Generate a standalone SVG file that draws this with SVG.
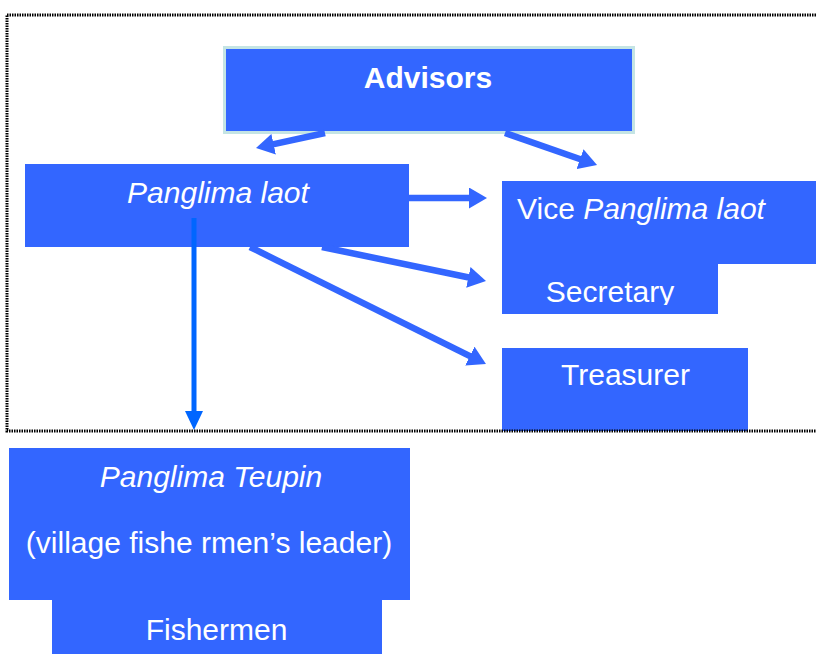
<svg xmlns="http://www.w3.org/2000/svg" width="816" height="654" viewBox="0 0 816 654">
<style>
.box{fill:#3366FF}
.t{font-family:"Liberation Sans",Arial,sans-serif;font-size:30px;fill:#FFFFFF;text-anchor:middle}
.i{font-style:italic}
.c{stroke:#3366FF;stroke-width:6.5;fill:none;marker-end:url(#ah)}
.cv{stroke:#0066FF;stroke-width:5;fill:none;marker-end:url(#ahv)}
</style>
<defs>
<marker id="ah" markerUnits="userSpaceOnUse" markerWidth="18" markerHeight="21" refX="8" refY="10.5" orient="auto"><path d="M0,0 L18,10.5 L0,21 z" fill="#3366FF"/></marker>
<marker id="ahv" markerUnits="userSpaceOnUse" markerWidth="19" markerHeight="18" refX="9" refY="9" orient="auto"><path d="M0,0 L19,9 L0,18 z" fill="#0066FF"/></marker>
<clipPath id="secclip"><rect x="502" y="264" width="216" height="41"/></clipPath>
</defs>
<rect width="816" height="654" fill="#FFFFFF"/>
<g id="advisors">
<rect class="box" x="224.5" y="47.5" width="409" height="85" stroke="#C4E4E4" stroke-width="3"/>
<text class="t" x="428" y="88" font-weight="bold">Advisors</text>
</g>
<g id="panglima-laot">
<rect class="box" x="25" y="164" width="384" height="83"/>
<text class="t i" x="218" y="203">Panglima laot</text>
</g>
<g id="vice">
<rect class="box" x="502" y="181" width="330" height="83"/>
<text class="t" x="517" y="219" style="text-anchor:start">Vice <tspan class="i">Panglima laot</tspan></text>
</g>
<g id="secretary">
<rect class="box" x="502" y="264" width="216" height="50"/>
<text class="t" x="610" y="302" clip-path="url(#secclip)">Secretary</text>
</g>
<g id="treasurer">
<rect class="box" x="502" y="348" width="246" height="83"/>
<text class="t" x="625.5" y="385">Treasurer</text>
</g>
<g id="panglima-teupin">
<rect class="box" x="9" y="448" width="401" height="152"/>
<text class="t i" x="211" y="487">Panglima Teupin</text>
<text class="t" x="209" y="553">(village fishe rmen’s leader)</text>
</g>
<g id="fishermen">
<rect class="box" x="52" y="600" width="330" height="54"/>
<text class="t" x="216.5" y="640">Fishermen</text>
</g>
<g id="connectors">
<line class="c" x1="325" y1="133" x2="265.8" y2="145.9"/>
<line class="c" x1="505" y1="133" x2="587.6" y2="161.7"/>
<line class="c" x1="409" y1="198" x2="477" y2="198"/>
<line class="c" x1="322" y1="247" x2="476.2" y2="279"/>
<line class="c" x1="250" y1="247" x2="477" y2="359.6"/>
<line class="cv" x1="194" y1="218" x2="194" y2="420"/>
</g>
<rect x="7" y="15" width="840" height="416" fill="none" stroke="#000000" stroke-width="3" stroke-dasharray="1.5 1"/>
</svg>
